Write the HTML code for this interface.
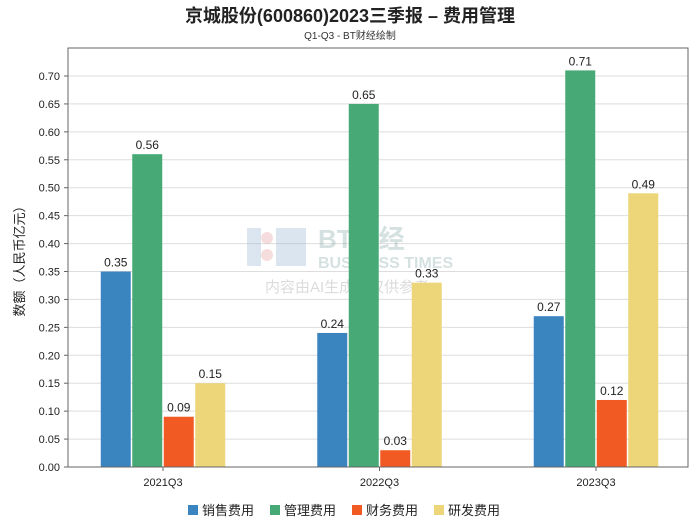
<!DOCTYPE html>
<html><head><meta charset="utf-8">
<style>
body{margin:0;background:#fff;}
svg text{font-family:"Liberation Sans","Noto Sans CJK SC",sans-serif;}
</style></head>
<body>
<svg id="chart" width="700" height="524" xmlns="http://www.w3.org/2000/svg">
<rect width="700" height="524" fill="#fff"/>
<text x="350" y="22" text-anchor="middle" font-size="18" font-weight="bold" fill="#222">京城股份(600860)2023三季报 – 费用管理</text>
<text x="350" y="39" text-anchor="middle" font-size="10" fill="#333">Q1-Q3 - BT财经绘制</text>
<g id="grid"></g>
<g id="wm" opacity="0.35">
<rect x="247" y="228" width="14" height="38" fill="#9ab6d6"/>
<circle cx="267" cy="238" r="6" fill="#e8a0a0"/>
<circle cx="267" cy="255" r="6" fill="#e8a0a0"/>
<rect x="276" y="228" width="30" height="38" fill="#9ab6d6"/>
<text x="318" y="248" font-size="26" font-weight="bold" fill="#8aa" font-family="Liberation Serif">BT财经</text>
<text x="318" y="268" font-size="16" font-weight="bold" fill="#8aa" font-family="Liberation Serif">BUSINESS TIMES</text>
<text x="265" y="292" font-size="15" fill="#999">内容由AI生成，仅供参考</text>
</g>
<g id="bars"></g>
<rect x="68" y="48" width="620" height="419" fill="none" stroke="#666" stroke-width="1"/>
<text transform="translate(24,258) rotate(-90)" text-anchor="middle" font-size="13" fill="#222">数额（人民币亿元）</text>
<g id="legend"></g>
</svg>
<script>
const categories=["2021Q3","2022Q3","2023Q3"];
const seriesNames=["销售费用","管理费用","财务费用","研发费用"];
const sales=[0.35,0.24,0.27];
const admin=[0.56,0.65,0.71];
const finance=[0.09,0.03,0.12];
const rnd=[0.15,0.33,0.49];
const yTicks=[0,0.05,0.1,0.15,0.2,0.25,0.3,0.35,0.4,0.45,0.5,0.55,0.6,0.65,0.7];
const colors=["#3a84c0","#46a976","#f15a22","#edd679"];
const NS="http://www.w3.org/2000/svg";
const y0=467,yPerUnit=(467-76)/0.7;
function y(v){return y0-v*yPerUnit;}
const groupStart=163,groupStep=216.5;
function xc(i){return groupStart+i*groupStep;}
function mk(tag,attrs,parent){const e=document.createElementNS(NS,tag);for(const k in attrs)e.setAttribute(k,attrs[k]);parent.appendChild(e);return e;}
const grid=document.getElementById('grid');
yTicks.forEach(t=>{
  const l=mk('line',{x1:68,x2:688,y1:y(t),y2:y(t),stroke:'#ddd','stroke-width':1},grid);
  
  
  mk('line',{x1:64,x2:68,y1:y(t),y2:y(t),stroke:'#666'},grid);
  const tx=mk('text',{x:60,y:y(t)+4,'text-anchor':'end','font-size':11,fill:'#222'},grid);
  tx.textContent=t.toFixed(2);
  
  
});
const bars=document.getElementById('bars');
const series=[sales,admin,finance,rnd];
const bw=30,gap=1.5;
categories.forEach((c,i)=>{
  const cx=xc(i);
  series.forEach((s,j)=>{
    const x=cx-2*bw-1.5*gap+j*(bw+gap);
    const r=mk('rect',{x:x,y:y(s[i]),width:bw,height:y0-y(s[i]),fill:colors[j]},bars);
    
    
    const t=mk('text',{x:x+bw/2,y:y(s[i])-5,'text-anchor':'middle','font-size':12,fill:'#222'},bars);
    t.textContent=s[i].toFixed(2);
    
    
  });
  mk('line',{x1:cx,x2:cx,y1:467,y2:471,stroke:'#666'},bars);
  const lt=mk('text',{x:cx,y:486,'text-anchor':'middle','font-size':11,fill:'#222'},bars);
  lt.textContent=c;
  
  
});
const lg=document.getElementById('legend');
const lx=[188,270,352,434];
seriesNames.forEach((n,j)=>{
  const g=mk('g',{},lg);
  
  
  mk('rect',{x:lx[j],y:505,width:10,height:10,fill:colors[j]},g);
  const t=mk('text',{x:lx[j]+14,y:515,'font-size':13,fill:'#222'},g);
  t.textContent=n;
});
</script>
</body></html>
